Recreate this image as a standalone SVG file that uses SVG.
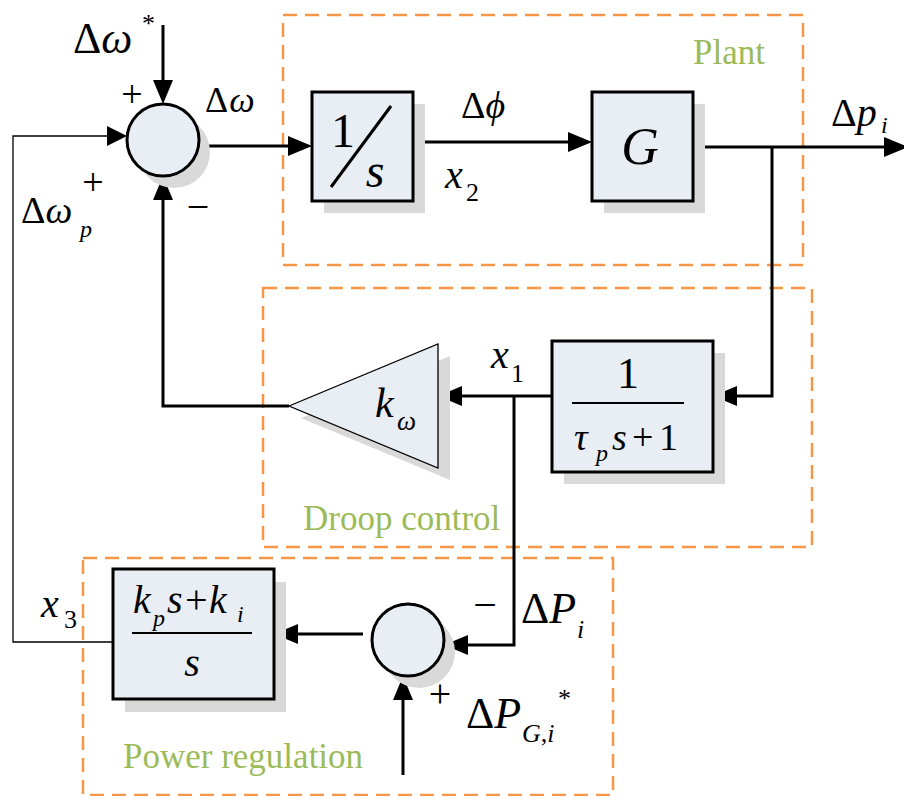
<svg xmlns="http://www.w3.org/2000/svg" width="904" height="796" viewBox="0 0 904 796">
<style>
.box{fill:#e9edf4;stroke:#000;stroke-width:3}
.tri{fill:#e9edf4;stroke:#000;stroke-width:1.3}
.shadow{fill:#d9d9d9;stroke:none}
.grp{fill:none;stroke:#f79646;stroke-width:2.5;stroke-dasharray:14 8}
.w{fill:none;stroke:#000;stroke-width:3}
.thin{fill:none;stroke:#000;stroke-width:1.3}
text{font-family:"Liberation Serif","Times New Roman",serif;fill:#000}
.i{font-style:italic}
.lbl{fill:#9bbb59;font-size:35px}
</style>
<defs>
<marker id="ah" markerUnits="userSpaceOnUse" markerWidth="24" markerHeight="20" refX="20" refY="10" orient="auto">
<path d="M0,0 L24,10 L0,20 z" fill="#000"/>
</marker>
<marker id="ahs" markerUnits="userSpaceOnUse" markerWidth="20" markerHeight="20" refX="17" refY="10" orient="auto">
<path d="M0,0 L20,10 L0,20 z" fill="#000"/>
</marker>
</defs>

<!-- group frames -->
<g id="plant-frame"><rect class="grp" x="283" y="15" width="520" height="250"/><text class="lbl" x="693" y="64">Plant</text></g>
<g id="droop-frame"><rect class="grp" x="263" y="288" width="549" height="259"/><text class="lbl" x="303" y="530">Droop control</text></g>
<g id="power-frame"><rect class="grp" x="83" y="558" width="530" height="237"/><text class="lbl" x="123" y="768">Power regulation</text></g>

<!-- connectors -->
<g id="connectors">
<path class="w" d="M163,25 V100" marker-end="url(#ah)"/>
<path class="thin" d="M113,642 H13 V136 H124" marker-end="url(#ahs)"/>
<path class="w" d="M199,146 H308" marker-end="url(#ah)"/>
<path class="w" d="M413,142 H588" marker-end="url(#ah)"/>
<path class="w" d="M693,147 H904" marker-end="url(#ah)"/>
<path class="w" d="M772,147 V396 H717" marker-end="url(#ah)"/>
<path class="w" d="M552,396 H442" marker-end="url(#ah)"/>
<path class="w" d="M289,406 H163 V180" marker-end="url(#ah)"/>
<path class="w" d="M514,396 V645 H448" marker-end="url(#ah)"/>
<path class="w" d="M403,775 V680" marker-end="url(#ah)"/>
<path class="w" d="M363,634 H278" marker-end="url(#ah)"/>
</g>

<!-- summing junction top -->
<g id="sum1">
<circle class="shadow" cx="174" cy="152" r="36"/>
<circle class="box" cx="163" cy="140" r="36"/>
</g>

<!-- 1/s -->
<g id="integrator">
<rect class="shadow" x="324" y="104" width="101" height="109"/>
<rect class="box" x="312" y="92" width="101" height="109"/>
<text x="343" y="147" font-size="48" text-anchor="middle">1</text>
<line class="w" x1="331" y1="187" x2="391" y2="106"/>
<text class="i" x="375" y="187" font-size="48" text-anchor="middle">s</text>
</g>

<!-- G -->
<g id="plant-G">
<rect class="shadow" x="604" y="104" width="101" height="109"/>
<rect class="box" x="592" y="92" width="101" height="109"/>
<text class="i" x="640" y="164" font-size="52" text-anchor="middle">G</text>
</g>

<!-- low pass filter -->
<g id="filter">
<rect class="shadow" x="564" y="353" width="161" height="131"/>
<rect class="box" x="552" y="341" width="161" height="131"/>
<text x="628" y="388" font-size="44" text-anchor="middle">1</text>
<line x1="572" y1="403" x2="684" y2="403" stroke="#000" stroke-width="2"/>
<text class="i" x="574" y="450" font-size="38">τ</text>
<text class="i" x="596" y="461" font-size="24">p</text>
<text class="i" x="612" y="450" font-size="38">s</text>
<text x="632" y="450" font-size="38">+</text>
<text x="659" y="450" font-size="38">1</text>
</g>

<!-- gain k_omega -->
<g id="gain">
<polygon class="shadow" points="301,418 450,356 450,480"/>
<polygon class="tri" points="289,406 438,344 438,468"/>
<text class="i" x="375" y="417" font-size="42">k</text>
<text class="i" x="397" y="430" font-size="27">ω</text>
</g>

<!-- summing junction bottom -->
<g id="sum2">
<circle class="shadow" cx="419" cy="652" r="36"/>
<circle class="box" cx="408" cy="640" r="36"/>
</g>

<!-- PI -->
<g id="pi">
<rect class="shadow" x="125" y="582" width="161" height="130"/>
<rect class="box" x="113" y="569" width="161" height="130"/>
<text class="i" x="133" y="613" font-size="40">k</text>
<text class="i" x="153" y="626" font-size="24">p</text>
<text class="i" x="167" y="613" font-size="40">s</text>
<text x="185" y="613" font-size="40">+</text>
<text class="i" x="209" y="613" font-size="40">k</text>
<text class="i" x="237" y="622" font-size="24">i</text>
<line x1="132" y1="633" x2="252" y2="633" stroke="#000" stroke-width="2"/>
<text class="i" x="192" y="676" font-size="40" text-anchor="middle">s</text>
</g>

<!-- signal labels -->
<g id="labels">
<text x="73" y="53" font-size="44">Δ<tspan class="i">ω</tspan></text>
<text x="142" y="32" font-size="26">*</text>
<text x="132" y="107" font-size="38" text-anchor="middle">+</text>
<text x="205" y="112" font-size="36">Δ<tspan class="i" dx="1">ω</tspan></text>
<text x="93" y="195" font-size="38" text-anchor="middle">+</text>
<text x="21" y="223" font-size="38">Δ<tspan class="i">ω</tspan></text>
<text class="i" x="80" y="237" font-size="24">p</text>
<text x="198" y="220" font-size="40" text-anchor="middle">−</text>
<text x="461" y="118" font-size="38">Δ<tspan class="i">ϕ</tspan></text>
<text class="i" x="445" y="188" font-size="40">x</text>
<text x="466" y="201" font-size="26">2</text>
<text x="831" y="126" font-size="40">Δ<tspan class="i">p</tspan></text>
<text class="i" x="881" y="133" font-size="24">i</text>
<text class="i" x="491" y="368" font-size="40">x</text>
<text x="511" y="382" font-size="26">1</text>
<text class="i" x="41" y="617" font-size="40">x</text>
<text x="64" y="628" font-size="26">3</text>
<text x="485" y="619" font-size="42" text-anchor="middle">−</text>
<text x="521" y="623" font-size="44">Δ<tspan class="i">P</tspan></text>
<text class="i" x="577" y="638" font-size="26">i</text>
<text x="440" y="707" font-size="40" text-anchor="middle">+</text>
<text x="466" y="728" font-size="44">Δ<tspan class="i">P</tspan></text>
<text class="i" x="522" y="742" font-size="26">G<tspan font-style="normal">,</tspan>i</text>
<text x="558" y="707" font-size="26">*</text>
</g>
</svg>
